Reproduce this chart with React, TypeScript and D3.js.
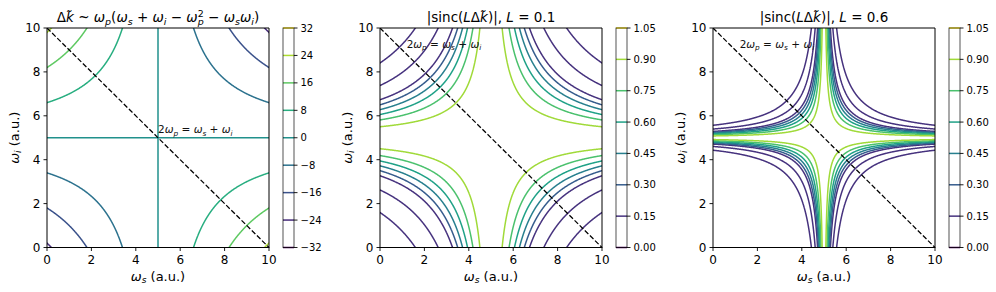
import React, { useMemo } from 'react';
import * as d3 from 'd3';

// ---- data / parameters ----
const OMEGA_P = 5;
const dkLevels = [-32, -24, -16, -8, 0, 8, 16, 24, 32];
const sincLevels = [0, 0.15, 0.3, 0.45, 0.6, 0.75, 0.9, 1.05];
const sincLengths = [0.1, 0.6];
const axisTicks = [0, 2, 4, 6, 8, 10];
const axisDomain = [0, 10];
const diagonalX = [0, 10];
const diagonalY = [10, 0];
const annotationX = [5, 1.2, 1.2];
const annotationY = [5.2, 9.1, 9.1];

// ---- layout ----
const W = 996;
const H = 292;
const PANEL_LEFT = [47, 380, 713];
const AX_W = 222;
const AX_TOP = 28;
const AX_BOTTOM = 247.5;
const CB_GAP = 14;
const CB_W = 11;

type Tok = { t: string; it?: boolean; sub?: string; sup?: string };

function mathSpans(tokens: Tok[], f: number) {
  const parts: any[] = [];
  let off = 0;
  tokens.forEach((tk, k) => {
    parts.push(
      <tspan key={k + 'm'} fontStyle={tk.it ? 'italic' : 'normal'} dy={-off}>
        {tk.t}
      </tspan>
    );
    off = 0;
    if (tk.sub) {
      const s = 0.22 * f;
      parts.push(
        <tspan key={k + 'b'} fontStyle="italic" fontSize={0.7 * f} dy={s}>
          {tk.sub}
        </tspan>
      );
      off = s;
    }
    if (tk.sup) {
      const dx = tk.sub ? -0.7 * f * 0.62 * tk.sub.length : 0;
      const target = -0.4 * f;
      parts.push(
        <tspan key={k + 'p'} fontStyle="normal" fontSize={0.7 * f} dx={dx} dy={target - off}>
          {tk.sup}
        </tspan>
      );
      off = target;
    }
  });
  if (off !== 0) parts.push(<tspan key="end" dy={-off}>{''}</tspan>);
  return parts;
}

const dkTitle: Tok[] = [
  { t: 'Δ' }, { t: 'k\u0303', it: true }, { t: ' ~ ' },
  { t: 'ω', it: true, sub: 'p' }, { t: '(' },
  { t: 'ω', it: true, sub: 's' }, { t: ' + ' },
  { t: 'ω', it: true, sub: 'i' }, { t: ' − ' },
  { t: 'ω', it: true, sub: 'p', sup: '2' }, { t: ' − ' },
  { t: 'ω', it: true, sub: 's' }, { t: 'ω', it: true, sub: 'i' }, { t: ')' },
];
const sincTitle = (L: number): Tok[] => [
  { t: '|sinc(' }, { t: 'L', it: true }, { t: 'Δ' }, { t: 'k\u0303', it: true },
  { t: ')|, ' }, { t: 'L', it: true }, { t: ' = ' + L },
];
const annotation: Tok[] = [
  { t: '2' }, { t: 'ω', it: true, sub: 'p' }, { t: ' = ' },
  { t: 'ω', it: true, sub: 's' }, { t: ' + ' }, { t: 'ω', it: true, sub: 'i' },
];
const xLabel: Tok[] = [{ t: 'ω', it: true, sub: 's' }, { t: ' (a.u.)' }];
const yLabel: Tok[] = [{ t: 'ω', it: true, sub: 'i' }, { t: ' (a.u.)' }];

const deltaK = (ws: number, wi: number) =>
  OMEGA_P * (ws + wi) - OMEGA_P * OMEGA_P - ws * wi;
const sincAbs = (x: number) =>
  x === 0 ? 1 : Math.abs(Math.sin(Math.PI * x) / (Math.PI * x));

const GRID_LO = -0.31;
const GRID_STEP = 0.02;
const GRID_N = Math.ceil((10.31 - GRID_LO) / GRID_STEP) + 1;

function gridValues(fn: (a: number, b: number) => number) {
  const vals = new Float64Array(GRID_N * GRID_N);
  for (let j = 0; j < GRID_N; j++) {
    const wi = GRID_LO + j * GRID_STEP;
    for (let i = 0; i < GRID_N; i++) {
      const ws = GRID_LO + i * GRID_STEP;
      vals[j * GRID_N + i] = fn(ws, wi);
    }
  }
  return vals;
}

type PanelSpec = { levels: number[]; fn: (a: number, b: number) => number; title: Tok[]; fmt: (v: number) => string };

const panels: PanelSpec[] = [
  { levels: dkLevels, fn: deltaK, title: dkTitle, fmt: d3.format('d') },
  ...sincLengths.map((L) => ({
    levels: sincLevels,
    fn: (a: number, b: number) => sincAbs(L * deltaK(a, b)),
    title: sincTitle(L),
    fmt: d3.format('.2f'),
  })),
];

function Panel({ spec, idx }: { spec: PanelSpec; idx: number }) {
  const left = PANEL_LEFT[idx];
  const right = left + AX_W;
  const x = d3.scaleLinear().domain(axisDomain).range([left, right]);
  const y = d3.scaleLinear().domain(axisDomain).range([AX_BOTTOM, AX_TOP]);
  const lmin = d3.min(spec.levels) as number;
  const lmax = d3.max(spec.levels) as number;
  const color = (v: number) => d3.interpolateViridis((v - lmin) / (lmax - lmin));

  const contours = useMemo(() => {
    const vals = gridValues(spec.fn);
    const [vmin, vmax] = d3.extent(vals as any) as [number, number];
    const inner = spec.levels.filter((l) => l > vmin && l < vmax);
    const gen = d3.contours().size([GRID_N, GRID_N]).thresholds(inner);
    return gen(Array.from(vals));
  }, [spec]);

  const proj = d3.geoTransform({
    point(this: any, gx: number, gy: number) {
      this.stream.point(
        x(GRID_LO + (gx - 0.5) * GRID_STEP),
        y(GRID_LO + (gy - 0.5) * GRID_STEP)
      );
    },
  });
  const path = d3.geoPath(proj);

  const cbL = right + CB_GAP;
  const cbR = cbL + CB_W;
  const cy = d3.scaleLinear().domain([lmin, lmax]).range([AX_BOTTOM, AX_TOP]);
  const clipId = 'clip' + idx;
  const cx = (left + right) / 2;
  const midY = (AX_TOP + AX_BOTTOM) / 2;

  return (
    <g>
      <defs>
        <clipPath id={clipId}>
          <rect x={left} y={AX_TOP} width={AX_W} height={AX_BOTTOM - AX_TOP} />
        </clipPath>
      </defs>
      <g clipPath={`url(#${clipId})`}>
        {contours.map((c, k) => (
          <path key={k} d={path(c as any) || ''} fill="none" stroke={color(c.value)} strokeWidth={1.5} />
        ))}
        <line
          x1={x(diagonalX[0])} y1={y(diagonalY[0])} x2={x(diagonalX[1])} y2={y(diagonalY[1])}
          stroke="#000" strokeWidth={1.25} strokeDasharray="5 2.2"
        />
      </g>
      <text x={x(annotationX[idx])} y={y(annotationY[idx])} fontSize={10.5} fill="#111" style={{ whiteSpace: 'pre' }}>
        {mathSpans(annotation, 10.5)}
      </text>
      {/* spines */}
      <line x1={left} y1={AX_TOP} x2={left} y2={AX_BOTTOM} stroke="#000" strokeWidth={1} />
      <line x1={right} y1={AX_TOP} x2={right} y2={AX_BOTTOM} stroke="#000" strokeWidth={1} />
      <line x1={left} y1={AX_TOP} x2={right} y2={AX_TOP} stroke="#000" strokeWidth={1} />
      <line x1={left - 0.5} y1={AX_BOTTOM} x2={right + 0.5} y2={AX_BOTTOM} stroke="#000" strokeWidth={1} />
      {/* x ticks */}
      {axisTicks.map((t) => (
        <g key={'x' + t}>
          <line x1={x(t)} x2={x(t)} y1={AX_BOTTOM} y2={AX_BOTTOM + 3.5} stroke="#000" strokeWidth={0.9} />
          <text x={x(t)} y={AX_BOTTOM + 16.5} fontSize={12} textAnchor="middle">{t}</text>
        </g>
      ))}
      {/* y ticks */}
      {axisTicks.map((t) => (
        <g key={'y' + t}>
          <line x1={left - 3.5} x2={left} y1={y(t)} y2={y(t)} stroke="#000" strokeWidth={0.9} />
          <text x={left - 6.5} y={y(t)} dy="0.36em" fontSize={12} textAnchor="end">{t}</text>
        </g>
      ))}
      <text x={cx} y={280.5} fontSize={13} textAnchor="middle" style={{ whiteSpace: 'pre' }}>
        {mathSpans(xLabel, 13)}
      </text>
      <text transform={`translate(${left - 28.5},${midY}) rotate(-90)`} fontSize={13} textAnchor="middle" style={{ whiteSpace: 'pre' }}>
        {mathSpans(yLabel, 13)}
      </text>
      <text x={cx} y={22} fontSize={13.5} textAnchor="middle" style={{ whiteSpace: 'pre' }}>
        {mathSpans(spec.title, 13.5)}
      </text>
      {/* colorbar */}
      <rect x={cbL} y={AX_TOP} width={CB_W} height={AX_BOTTOM - AX_TOP} fill="#fff" />
      {spec.levels.map((l) => (
        <line key={'cl' + l} x1={cbL} x2={cbR} y1={cy(l)} y2={cy(l)} stroke={color(l)} strokeWidth={1.5} />
      ))}
      <rect x={cbL} y={AX_TOP} width={CB_W} height={AX_BOTTOM - AX_TOP} fill="none" stroke="#000" strokeWidth={0.9} opacity={0.75} />
      {spec.levels.map((l) => (
        <g key={'ct' + l}>
          <line x1={cbR} x2={cbR + 3.5} y1={cy(l)} y2={cy(l)} stroke="#000" strokeWidth={0.9} />
          <text x={cbR + 6.5} y={cy(l)} dy="0.36em" fontSize={10}>{spec.fmt(l)}</text>
        </g>
      ))}
    </g>
  );
}

export default function App() {
  return (
    <svg width={W} height={H} viewBox={`0 0 ${W} ${H}`} style={{ display: 'block', position: 'absolute', left: 0, top: 0, background: '#fff' }}
      fontFamily="'DejaVu Sans', sans-serif">
      <rect width={W} height={H} fill="#fff" />
      {panels.map((p, i) => (
        <Panel key={i} spec={p} idx={i} />
      ))}
    </svg>
  );
}
